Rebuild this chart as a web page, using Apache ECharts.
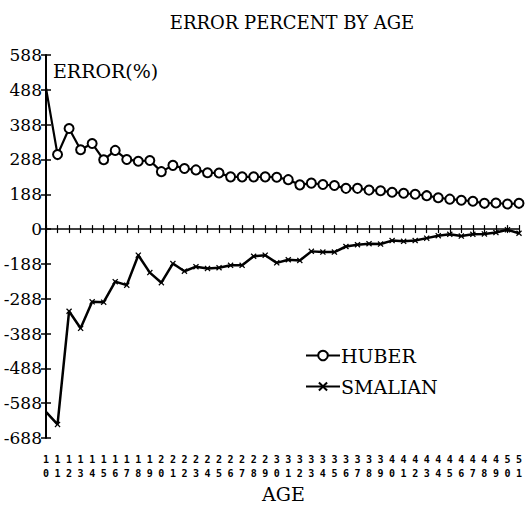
<!DOCTYPE html>
<html>
<head>
<meta charset="utf-8">
<script src="https://cdn.jsdelivr.net/npm/echarts@6/dist/echarts.min.js"></script>
<style>
html,body{margin:0;padding:0;background:#fff;}
#c{width:528px;height:507px;}
</style>
</head>
<body>
<div id="c"></div>
<script>
const ages = ['10','11','12','13','14','15','16','17','18','19','20','21','22','23','24','25','26','27','28','29','30','31','32','33','34','35','36','37','38','39','40','41','42','43','44','45','46','47','48','49','50','51'];
const huber = [405,214,289,228,246,199,226,200,195,197,165,183,174,170,162,161,150,150,150,150,149,142,127,132,128,125,117,117,112,110,106,103,100,96,90,86,83,80,74,75,72,74];
const smalian = [-525,-561,-236,-285,-209,-210,-151,-161,-75,-125,-154,-99,-121,-108,-113,-111,-104,-104,-78,-75,-97,-88,-90,-64,-66,-66,-50,-45,-42,-43,-33,-35,-33,-26,-19,-15,-20,-15,-14,-10,-2,-12];
const yTickValues = [-600,-500,-400,-300,-200,-100,0,100,200,300,400,500];
const yTickLabels = ['-688','-588','-488','-388','-288','-188','0','188','288','388','488','588'];
const seriesNames = ['HUBER','SMALIAN'];
const titleText = 'ERROR PERCENT BY AGE';
const yName = 'ERROR(%)';
const xName = 'AGE';

const serif = '"DejaVu Serif", "Liberation Serif", serif';
const chart = echarts.init(document.getElementById('c'), null, {renderer: 'svg'});
const xMark = 'path://M0,1.5L1.5,0L5,3.5L8.5,0L10,1.5L6.5,5L10,8.5L8.5,10L5,6.5L1.5,10L0,8.5L3.5,5Z';

const yFmt = v => {
  const i = yTickValues.indexOf(v);
  return i >= 0 ? yTickLabels[i] : '';
};
// first point of each series sits on the axis: no marker drawn there
const noFirstMarker = arr => arr.map((v, i) => i === 0 ? {value: v, symbol: 'none'} : v);

chart.setOption({
  animation: false,
  backgroundColor: '#fff',
  title: {
    text: titleText,
    left: 287, top: 8, textAlign: 'center',
    textStyle: {fontFamily: serif, fontSize: 18, fontWeight: 'normal', color: '#000'}
  },
  graphic: [
    {type: 'text', left: 53, top: 61, style: {text: yName, font: '19px ' + serif, fill: '#000'}},
    {type: 'text', left: 262, top: 484, style: {text: xName, font: '19px ' + serif, fill: '#000'}}
  ],
  legend: {
    orient: 'vertical', left: 300, top: 341,
    itemWidth: 34, itemHeight: 12, itemGap: 12,
    textStyle: {fontFamily: serif, fontSize: 19, color: '#000', padding: [0,0,0,-4]},
    data: seriesNames
  },
  grid: {left: 46, right: 9, top: 55, bottom: 69, containLabel: false},
  xAxis: [
    {
      type: 'category', data: ages, boundaryGap: false, position: 'bottom',
      axisLine: {show: false, onZero: false}, axisTick: {show: false},
      axisLabel: {
        interval: 0, margin: 14,
        formatter: v => v.charAt(0) + '\n' + v.charAt(1),
        fontFamily: '"DejaVu Sans Mono", monospace', fontWeight: 'bold', fontSize: 10,
        lineHeight: 14, color: '#000'
      },
      splitLine: {show: false}
    },
    {
      type: 'category', data: ages, boundaryGap: false, position: 'bottom',
      axisLine: {show: true, onZero: true, onZeroAxisIndex: 0, lineStyle: {color: '#000', width: 1.5}},
      axisTick: {show: true, interval: 0, inside: false, length: 4, lineStyle: {color: '#000', width: 1.2}},
      axisLabel: {show: false}, splitLine: {show: false}
    },
    {
      type: 'category', data: ages, boundaryGap: false, position: 'bottom',
      axisLine: {show: false, onZero: true, onZeroAxisIndex: 0},
      axisTick: {show: true, interval: 0, inside: true, length: 4, lineStyle: {color: '#000', width: 1.2}},
      axisLabel: {show: false}, splitLine: {show: false}
    }
  ],
  yAxis: [
    {
      type: 'value', min: -600, max: 500, interval: 100, position: 'left',
      axisLine: {show: true, onZero: false, lineStyle: {color: '#000', width: 2}},
      axisTick: {show: true, inside: false, length: 5, lineStyle: {color: '#000', width: 1.5}},
      axisLabel: {formatter: yFmt, fontFamily: serif, fontSize: 17, color: '#000', margin: 4},
      splitLine: {show: false}
    },
    {
      type: 'value', min: -600, max: 500, interval: 100, position: 'left',
      axisLine: {show: false, onZero: false},
      axisTick: {show: true, inside: true, length: 5, lineStyle: {color: '#000', width: 1.5}},
      axisLabel: {show: false}, splitLine: {show: false}
    }
  ],
  series: [
    {
      name: seriesNames[0], type: 'line', data: noFirstMarker(huber),
      symbol: 'circle', symbolSize: 9, showAllSymbol: true,
      lineStyle: {color: '#000', width: 2.2},
      itemStyle: {color: '#fff', borderColor: '#000', borderWidth: 2}
    },
    {
      name: seriesNames[1], type: 'line', data: noFirstMarker(smalian),
      symbol: xMark, symbolSize: 6, showAllSymbol: true,
      lineStyle: {color: '#000', width: 2.5},
      itemStyle: {color: '#000', borderWidth: 0}
    }
  ]
});
</script>
</body>
</html>
